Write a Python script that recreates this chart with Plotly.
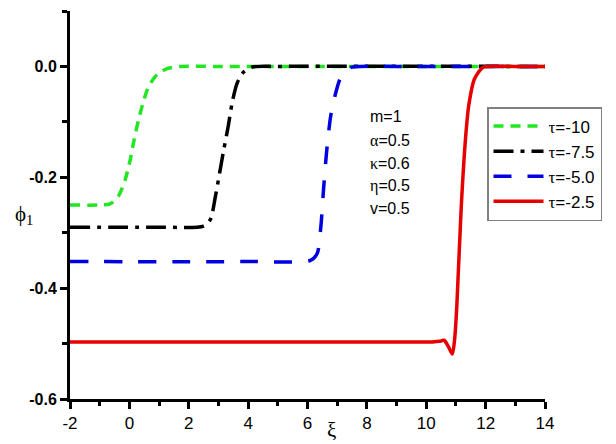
import plotly.graph_objects as go

# --- data ---
xi_g = [-2, -1, -0.65, -0.37, -0.14, 0.03, 0.16, 0.31, 0.48, 0.65, 0.93, 1.27, 1.72, 3, 14]
phi_g = [-0.25, -0.25, -0.248, -0.234, -0.204, -0.168, -0.132, -0.096, -0.062, -0.036, -0.015, -0.004, 0, 0, 0]

xi_k = [-2, 1, 2.5, 2.73, 2.90, 3.04, 3.18, 3.33, 3.46, 3.63, 3.85, 4.14, 5, 14]
phi_k = [-0.29, -0.29, -0.288, -0.276, -0.234, -0.192, -0.150, -0.108, -0.066, -0.030, -0.010, -0.001, 0, 0]

xi_b = [-2, 4, 6.1, 6.33, 6.45, 6.54, 6.64, 6.78, 6.95, 7.12, 7.46, 7.8, 9, 14]
phi_b = [-0.352, -0.352, -0.350, -0.337, -0.289, -0.222, -0.156, -0.090, -0.048, -0.020, -0.002, 0, 0, 0]

xi_r = [-2, 8, 10.2, 10.45, 10.6, 10.75, 10.88, 10.96, 11.03, 11.18, 11.32, 11.43, 11.62, 11.9, 12.1, 13, 14]
phi_r = [-0.497, -0.497, -0.497, -0.496, -0.494, -0.506, -0.519, -0.49, -0.432, -0.252, -0.132, -0.071, -0.023, -0.002, 0, 0, 0]

names = ["τ=-10", "τ=-7.5", "τ=-5.0", "τ=-2.5"]
x_ticks = [-2, 0, 2, 4, 6, 8, 10, 12, 14]
y_ticks = [-0.6, -0.4, -0.2, 0.0]
y_labels = ["-0.6", "-0.4", "-0.2", "0.0"]
params = ["m=1", "α=0.5", "κ=0.6", "η=0.5", "v=0.5"]

SANS = "Liberation Sans, Arial, sans-serif"
SERIF = "Liberation Serif"
W, H = 616, 444
L, R, T, B = 70, 545, 11, 399   # plot area in pixels


def px(xp):
    return xp / W


def py(yp):
    return (H - yp) / H


def legname(n):
    return '<span style="font-family:%s">τ</span>%s' % (SERIF, n[1:])


fig = go.Figure()
series = [
    (xi_g, phi_g, "#22e622", "10px,7px"),
    (xi_k, phi_k, "#000000", "20px,7px,4px,7px"),
    (xi_b, phi_b, "#0000e0", "18px,16px"),
    (xi_r, phi_r, "#e60000", "solid"),
]
for (x, y, c, d), n in zip(series, names):
    fig.add_trace(go.Scatter(x=x, y=y, mode="lines", name=legname(n),
                             line=dict(color=c, width=3.5, dash=d, shape="spline", smoothing=0.7)))

axis_common = dict(showline=True, linewidth=3, linecolor="black", mirror=False,
                   ticks="outside", ticklen=7, tickwidth=3, tickcolor="black",
                   showgrid=False, zeroline=False, automargin=False)

fig.update_xaxes(range=[-2, 14], domain=[px(L), px(R)], tickvals=x_ticks,
                 ticktext=[str(v) for v in x_ticks],
                 tickfont=dict(family=SANS, size=17, color="black"),
                 minor=dict(dtick=1, tick0=-1, ticks="outside", ticklen=4, tickwidth=3, tickcolor="black"),
                 **axis_common)
fig.update_yaxes(range=[-0.6, 0.1], domain=[py(B), py(T)], tickvals=y_ticks,
                 ticktext=["<b>%s</b>" % t for t in y_labels],
                 tickfont=dict(family=SANS, size=16, color="black"),
                 minor=dict(dtick=0.1, tick0=-0.5, ticks="outside", ticklen=5, tickwidth=3, tickcolor="black"),
                 **axis_common)

ann = []
ys = [117, 140, 163, 186, 208]
for t, yp in zip(params, ys):
    if t[0] in "ακη":
        txt = '<span style="font-family:%s">%s</span>%s' % (SERIF, t[0], t[1:])
    else:
        txt = t
    ann.append(dict(x=px(368), y=py(yp), xref="paper", yref="paper",
                    text=txt, showarrow=False, xanchor="left", yanchor="middle",
                    font=dict(family=SANS, size=16, color="black")))
ann.append(dict(x=px(331), y=py(430), xref="paper", yref="paper",
                text="ξ", showarrow=False,
                xanchor="center", yanchor="middle", font=dict(family=SERIF, size=21, color="black")))
ann.append(dict(x=px(24), y=py(215), xref="paper", yref="paper",
                text="ϕ<sub>1</sub>", showarrow=False,
                xanchor="center", yanchor="middle", font=dict(family=SERIF, size=21, color="black")))

fig.update_layout(
    width=W, height=H,
    margin=dict(l=0, r=0, t=0, b=0, autoexpand=False),
    paper_bgcolor="white", plot_bgcolor="white",
    showlegend=True,
    legend=dict(x=px(487), y=py(107), xanchor="left", yanchor="top",
                bordercolor="#808080", borderwidth=1.5, bgcolor="white",
                font=dict(family=SANS, size=17, color="black"), itemwidth=50,
                tracegroupgap=0),
    annotations=ann,
)

fig.write_html("out.html", config={"displayModeBar": False},
               post_script="document.body.style.margin='0px';document.body.style.padding='0px';")
